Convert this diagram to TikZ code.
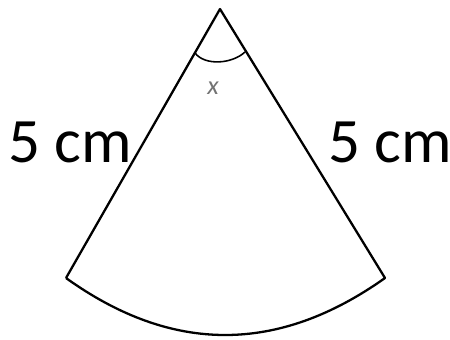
\documentclass[tikz,border=0pt]{standalone}
\usepackage{fontspec}
\setmainfont{Carlito}
\usepackage{tikz}
\usetikzlibrary{positioning}

\begin{document}
\begin{tikzpicture}[x=0.02cm, y=-0.02cm,
  edge/.style={draw, line width=1.3pt, line join=round},
  anglemark/.style={draw, line width=0.9pt},
  lbl/.style={font=\fontsize{36}{40}\selectfont, inner sep=0pt},
  angl/.style={font=\itshape\fontsize{15}{16}\selectfont, text=black!55, inner sep=0pt}]
\useasboundingbox (0,0) rectangle (450,339);
% sector corners
\coordinate (top) at (220,9);
\coordinate (bl) at (66,278);
\coordinate (br) at (385,278);
\draw[edge] (bl) -- (top) -- (br)
  .. controls (278,354) and (172,354) .. (bl);
% angle mark
\coordinate (ml) at (195,53);
\coordinate (mr) at (245,52);
\draw[anglemark] (ml) .. controls (205,66) and (232,64) .. (mr);
\node[angl] (ang) at (213,88) {x};
% side labels
\node[lbl] (left) at (70,142) {5 cm};
\node[lbl] (right) at (390,142) {5 cm};
\end{tikzpicture}
\end{document}
